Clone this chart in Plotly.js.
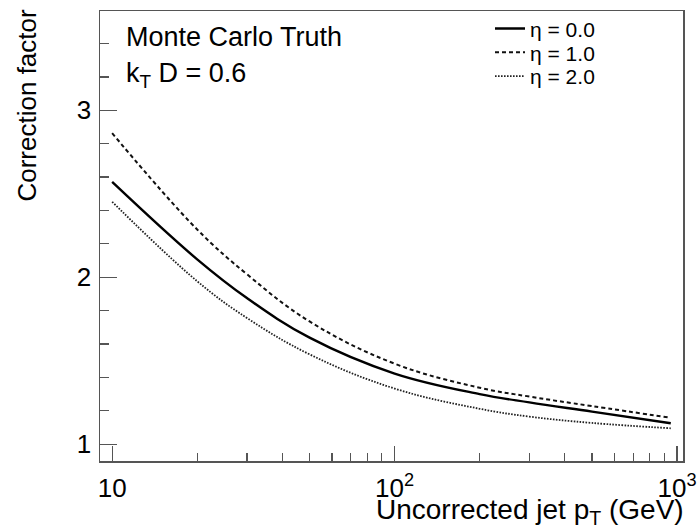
<!DOCTYPE html>
<html>
<head>
<meta charset="utf-8">
<script src="https://cdn.plot.ly/plotly-3.0.1.min.js"></script>
<style>html,body{margin:0;padding:0;background:#fff;}#chart{width:698px;height:529px;}</style>
</head>
<body>
<div id="chart"></div>
<script>
// Uncorrected jet pT (GeV)
var pt = [10, 20, 30, 50, 100, 200, 300, 500, 950];
// Correction factor for each eta
var eta00 = [2.571, 2.107, 1.875, 1.638, 1.423, 1.300, 1.250, 1.195, 1.125];
var eta10 = [2.863, 2.286, 2.018, 1.735, 1.482, 1.338, 1.285, 1.228, 1.158];
var eta20 = [2.452, 1.976, 1.756, 1.538, 1.333, 1.212, 1.165, 1.127, 1.095];
var seriesNames = ['\u03b7 = 0.0', '\u03b7 = 1.0', '\u03b7 = 2.0'];

var xMajor = [10, 100, 1000];
var xMajorText = ['10', '10<sup>2</sup>', '10<sup>3</sup>'];
var xMinor = [20, 30, 40, 50, 60, 70, 80, 90, 200, 300, 400, 500, 600, 700, 800, 900];
var yMajor = [1, 2, 3];

var FONT = 'Liberation Sans, Arial, Helvetica, sans-serif';
var H = 453, W = 583, L = 100, T = 8;
function px(x) { return (x - L) / W; }
function py(y) { return (T + H - y) / H; }

function tr(y, name, dash, w, col, leg) {
  return {x: pt, y: y, name: name, type: 'scatter', mode: 'lines', legend: leg,
          line: {color: col, width: w, dash: dash, shape: 'spline', smoothing: 1.1}};
}
var data = [
  tr(eta00, seriesNames[0], 'solid', 2.4, '#000', 'legend'),
  tr(eta10, seriesNames[1], '4px,3px', 2.0, '#111', 'legend2'),
  tr(eta20, seriesNames[2], '1.6px,1.4px', 1.8, '#222', 'legend3')
];

function leg(yc) {
  return {x: px(490), y: py(yc), xanchor: 'left', yanchor: 'middle',
          bgcolor: 'rgba(0,0,0,0)', borderwidth: 0,
          font: {family: FONT, size: 21, color: '#000'}};
}

var layout = {
  width: 698, height: 529,
  margin: {l: L, r: 698 - L - W, t: T, b: 529 - T - H},
  paper_bgcolor: '#fff', plot_bgcolor: '#fff',
  font: {family: FONT, color: '#000', size: 24},
  showlegend: true,
  legend: leg(26), legend2: leg(50), legend3: leg(74),
  xaxis: {
    type: 'log', range: [0.957, 3.021],
    tickmode: 'array', tickvals: xMajor, ticktext: xMajorText,
    ticks: 'inside', ticklen: 15, tickwidth: 1.2, tickcolor: '#555',
    minor: {tickmode: 'array', tickvals: xMinor, ticks: 'inside', ticklen: 8, tickwidth: 1.2, tickcolor: '#555'},
    showline: true, linecolor: '#555', linewidth: 1.5, mirror: true,
    showgrid: false, zeroline: false,
    tickfont: {family: FONT, size: 26, color: '#000'},
    ticklabelstandoff: 3
  },
  yaxis: {
    range: [0.899, 3.595],
    tickmode: 'array', tickvals: yMajor,
    ticks: 'inside', ticklen: 17, tickwidth: 1.2, tickcolor: '#555',
    minor: {dtick: 0.2, tick0: 0, ticks: 'inside', ticklen: 9, tickwidth: 1.2, tickcolor: '#555'},
    showline: true, linecolor: '#555', linewidth: 1.5, mirror: true,
    showgrid: false, zeroline: false,
    tickfont: {family: FONT, size: 26, color: '#000'},
    ticklabelstandoff: 2
  },
  annotations: [
    {text: 'Monte Carlo Truth', xref: 'paper', yref: 'paper',
     x: px(124), y: py(34), xanchor: 'left', yanchor: 'middle',
     showarrow: false, font: {family: FONT, size: 27, color: '#000'}},
    {text: 'k<sub>T</sub> D = 0.6', xref: 'paper', yref: 'paper',
     x: px(124), y: py(72), xanchor: 'left', yanchor: 'middle',
     showarrow: false, font: {family: FONT, size: 27, color: '#000'}},
    {text: 'Correction factor', xref: 'paper', yref: 'paper', textangle: -90,
     x: px(27), y: py(4), xanchor: 'center', yanchor: 'top',
     showarrow: false, font: {family: FONT, size: 26, color: '#000'}},
    {text: 'Uncorrected jet p<sub>T</sub> (GeV)', xref: 'paper', yref: 'paper',
     x: px(686), y: py(512), xanchor: 'right', yanchor: 'middle',
     showarrow: false, font: {family: FONT, size: 28, color: '#000'}}
  ]
};

Plotly.newPlot('chart', data, layout, {displayModeBar: false, staticPlot: true});
</script>
</body>
</html>
